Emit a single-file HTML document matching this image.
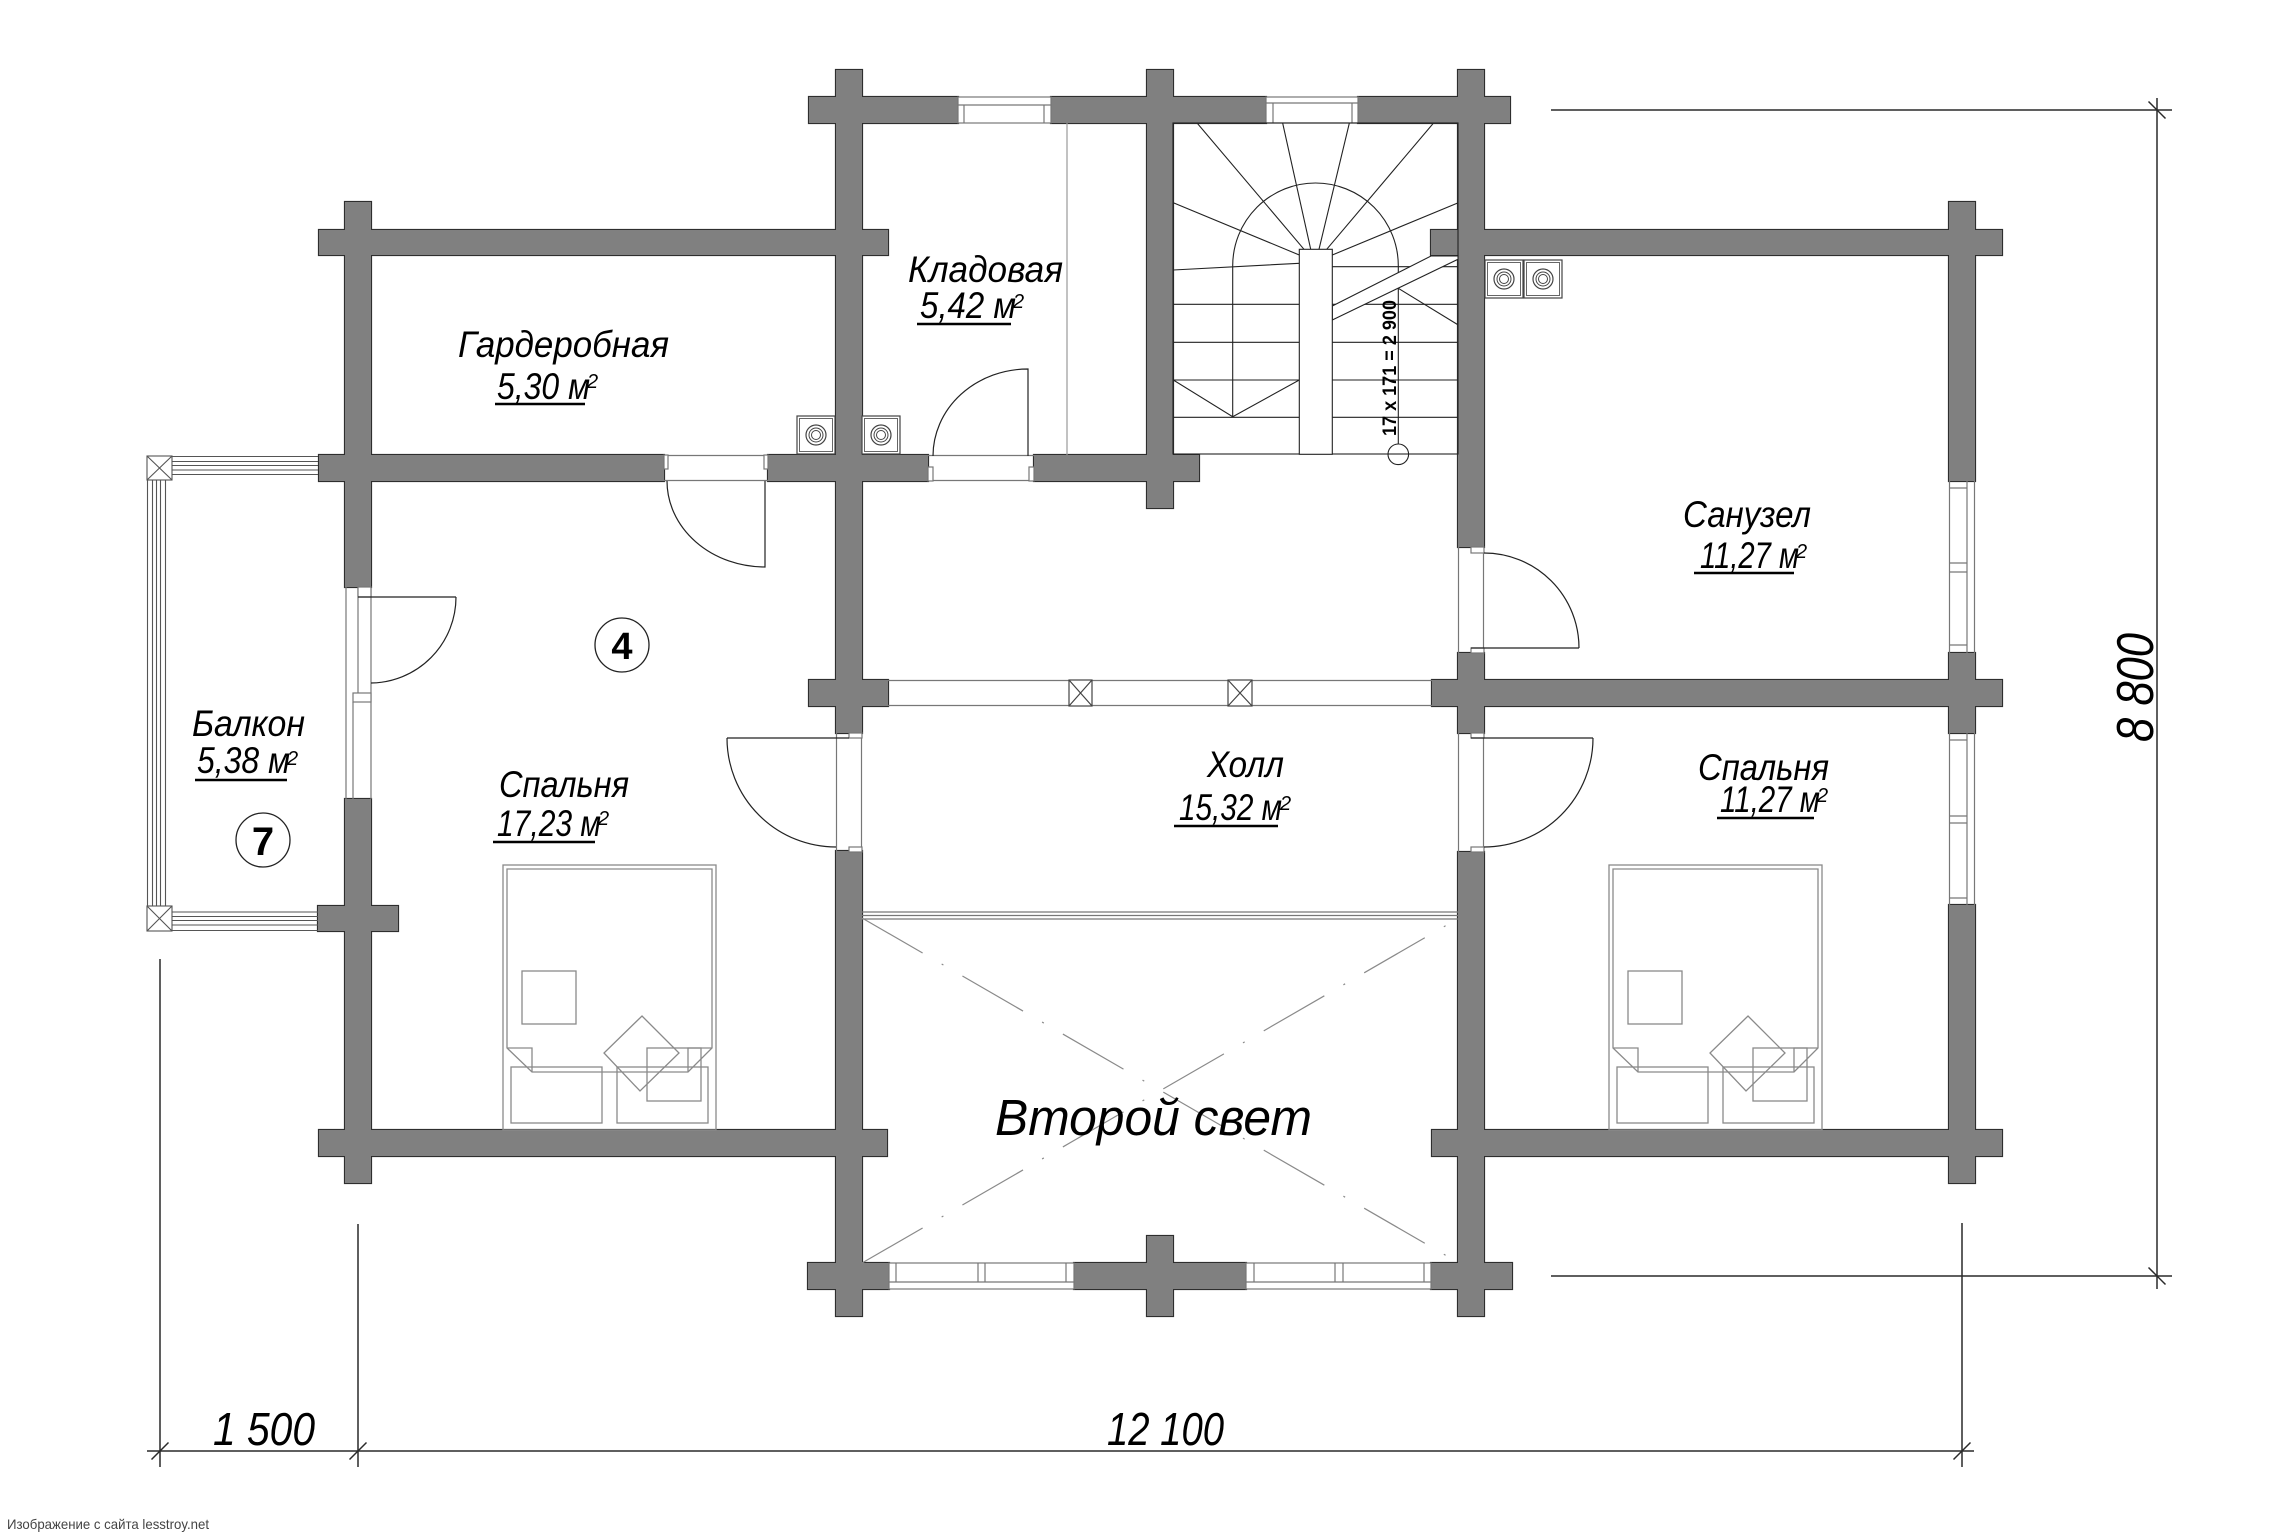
<!DOCTYPE html>
<html><head><meta charset="utf-8">
<style>
html,body{margin:0;padding:0;background:#fff;}
svg{display:block;}
.lbl{font-family:"Liberation Sans","DejaVu Sans",sans-serif;font-style:italic;fill:#000;}
</style></head>
<body>
<svg width="2290" height="1537" viewBox="0 0 2290 1537" xmlns="http://www.w3.org/2000/svg">
<rect width="2290" height="1537" fill="#fff"/>
<defs>
<g id="walls">
<rect x="345" y="202" width="26" height="385"/>
<rect x="345" y="799" width="26" height="384"/>
<rect x="836" y="70" width="26" height="663"/>
<rect x="836" y="851" width="26" height="465"/>
<rect x="1147" y="70" width="26" height="438"/>
<rect x="1147" y="1236" width="26" height="80"/>
<rect x="1458" y="70" width="26" height="477"/>
<rect x="1458" y="653" width="26" height="80"/>
<rect x="1458" y="852" width="26" height="464"/>
<rect x="1949" y="202" width="26" height="279"/>
<rect x="1949" y="653" width="26" height="80"/>
<rect x="1949" y="905" width="26" height="278"/>
<rect x="809" y="97" width="149" height="26"/>
<rect x="1051" y="97" width="215" height="26"/>
<rect x="1358" y="97" width="152" height="26"/>
<rect x="319" y="230" width="569" height="25"/>
<rect x="1431" y="230" width="571" height="25"/>
<rect x="319" y="455" width="345" height="26"/>
<rect x="768" y="455" width="160" height="26"/>
<rect x="1034" y="455" width="165" height="26"/>
<rect x="809" y="680" width="79" height="26"/>
<rect x="1432" y="680" width="570" height="26"/>
<rect x="319" y="1130" width="568" height="26"/>
<rect x="1432" y="1130" width="570" height="26"/>
<rect x="318" y="906" width="80" height="25"/>
<rect x="808" y="1263" width="81" height="26"/>
<rect x="1074" y="1263" width="172" height="26"/>
<rect x="1431" y="1263" width="81" height="26"/>
</g>
<g id="bed" fill="none" stroke="#8a8a8a" stroke-width="1.3">
<rect x="503" y="865" width="213" height="265"/>
<path d="M507,1048 L507,869 L712,869 L712,1048 L688,1072 L532,1072 Z"/>
<path d="M507,1048 L532,1048 L532,1072 M712,1048 L688,1048 L688,1072"/>
<rect x="522" y="971" width="54" height="53"/>
<rect x="511" y="1067" width="91" height="56"/>
<rect x="617" y="1067" width="91" height="56"/>
<path d="M642,1016 L679,1053 L640,1091 L604,1053 Z"/>
<rect x="647" y="1048" width="54" height="53"/>
</g>
<g id="sink">
<rect x="0" y="0" width="38" height="38" fill="#fff" stroke="#444" stroke-width="1.2"/>
<rect x="2.5" y="2.5" width="33" height="33" fill="none" stroke="#666" stroke-width="1"/>
<circle cx="19" cy="19" r="10" fill="none" stroke="#444" stroke-width="1.2"/>
<circle cx="19" cy="19" r="7" fill="none" stroke="#444" stroke-width="1"/>
<circle cx="19" cy="19" r="4.5" fill="none" stroke="#444" stroke-width="1"/>
</g>
</defs>

<use href="#walls" fill="#2e2e2e" stroke="#2e2e2e" stroke-width="2.2"/>
<use href="#walls" fill="#808080" stroke="none"/>

<g fill="none" stroke="#777" stroke-width="1.2">
<rect x="958" y="97" width="93" height="26" fill="#fff"/>
<line x1="958" y1="105" x2="1051" y2="105"/>
<line x1="964" y1="105" x2="964" y2="123"/><line x1="1044" y1="105" x2="1044" y2="123"/>
<rect x="1266" y="97" width="92" height="26" fill="#fff"/>
<line x1="1266" y1="103" x2="1358" y2="103"/>
<line x1="1273" y1="103" x2="1273" y2="123"/><line x1="1352" y1="103" x2="1352" y2="123"/>
<rect x="889" y="1263" width="185" height="26" fill="#fff"/>
<line x1="889" y1="1282" x2="1074" y2="1282"/>
<line x1="896" y1="1263" x2="896" y2="1282"/><line x1="978" y1="1263" x2="978" y2="1282"/>
<line x1="985" y1="1263" x2="985" y2="1282"/><line x1="1066" y1="1263" x2="1066" y2="1282"/>
<rect x="1246" y="1263" width="185" height="26" fill="#fff"/>
<line x1="1246" y1="1282" x2="1431" y2="1282"/>
<line x1="1254" y1="1263" x2="1254" y2="1282"/><line x1="1335" y1="1263" x2="1335" y2="1282"/>
<line x1="1343" y1="1263" x2="1343" y2="1282"/><line x1="1424" y1="1263" x2="1424" y2="1282"/>
<line x1="1949.5" y1="481" x2="1949.5" y2="653"/><line x1="1967" y1="481" x2="1967" y2="653"/><line x1="1974.5" y1="481" x2="1974.5" y2="653"/>
<line x1="1949" y1="488" x2="1967" y2="488"/><line x1="1949" y1="563" x2="1967" y2="563"/>
<line x1="1949" y1="572" x2="1967" y2="572"/><line x1="1949" y1="645" x2="1967" y2="645"/>
<line x1="1949.5" y1="733" x2="1949.5" y2="905"/><line x1="1967" y1="733" x2="1967" y2="905"/><line x1="1974.5" y1="733" x2="1974.5" y2="905"/>
<line x1="1949" y1="740" x2="1967" y2="740"/><line x1="1949" y1="816" x2="1967" y2="816"/>
<line x1="1949" y1="823" x2="1967" y2="823"/><line x1="1949" y1="898" x2="1967" y2="898"/>
<line x1="346" y1="587" x2="346" y2="799"/><line x1="371" y1="587" x2="371" y2="799"/>
<line x1="358" y1="587" x2="358" y2="693"/><line x1="353" y1="702" x2="353" y2="799"/>
<rect x="353" y="693" width="18" height="9" fill="#fff"/>
<rect x="358" y="587" width="13" height="10" fill="#fff"/>
<line x1="664" y1="455.5" x2="768" y2="455.5"/><line x1="664" y1="480.5" x2="768" y2="480.5"/>
<line x1="928" y1="455.5" x2="1034" y2="455.5"/><line x1="928" y1="480.5" x2="1034" y2="480.5"/>
<rect x="928" y="467" width="5" height="14" fill="#fff"/><rect x="1029" y="467" width="5" height="14" fill="#fff"/>
<rect x="664" y="455" width="4" height="14" fill="#fff"/><rect x="764" y="455" width="4" height="14" fill="#fff"/>
<line x1="836.5" y1="733" x2="836.5" y2="851"/><line x1="861.5" y1="733" x2="861.5" y2="851"/>
<line x1="1458.5" y1="547" x2="1458.5" y2="653"/><line x1="1483.5" y1="547" x2="1483.5" y2="653"/>
<line x1="1458.5" y1="733" x2="1458.5" y2="852"/><line x1="1483.5" y1="733" x2="1483.5" y2="852"/>
<rect x="849" y="733" width="13" height="5" fill="#fff"/><rect x="849" y="847" width="13" height="5" fill="#fff"/>
<rect x="1471" y="547" width="13" height="6" fill="#fff"/><rect x="1471" y="648" width="13" height="5" fill="#fff"/>
<rect x="1471" y="733" width="13" height="5" fill="#fff"/><rect x="1471" y="847" width="13" height="5" fill="#fff"/>
<line x1="888" y1="680.5" x2="1432" y2="680.5"/><line x1="888" y1="705.5" x2="1432" y2="705.5"/>
<rect x="1069" y="680" width="23" height="26" fill="#fff" stroke="#444"/>
<path d="M1069,680 L1092,706 M1092,680 L1069,706" stroke="#444"/>
<rect x="1228" y="680" width="24" height="26" fill="#fff" stroke="#444"/>
<path d="M1228,680 L1252,706 M1252,680 L1228,706" stroke="#444"/>
<line x1="862" y1="912" x2="1458" y2="912"/><line x1="862" y1="915.5" x2="1458" y2="915.5"/><line x1="862" y1="919" x2="1458" y2="919"/>
<line x1="1067" y1="123" x2="1067" y2="455" stroke="#999"/>
</g>

<g fill="none" stroke="#555" stroke-width="1.1">
<rect x="147" y="456" width="25" height="24" fill="#fff"/>
<path d="M147,456 L172,480 M172,456 L147,480"/>
<rect x="147" y="906" width="25" height="25" fill="#fff"/>
<path d="M147,906 L172,931 M172,906 L147,931"/>
<line x1="172" y1="456.5" x2="318" y2="456.5"/><line x1="172" y1="461.5" x2="318" y2="461.5"/>
<line x1="172" y1="465.5" x2="318" y2="465.5"/><line x1="172" y1="470" x2="318" y2="470"/>
<line x1="172" y1="474.5" x2="318" y2="474.5"/>
<line x1="172" y1="912" x2="318" y2="912"/><line x1="172" y1="916.5" x2="318" y2="916.5"/>
<line x1="172" y1="920.5" x2="318" y2="920.5"/><line x1="172" y1="925" x2="318" y2="925"/>
<line x1="172" y1="930.5" x2="318" y2="930.5"/>
<line x1="147.5" y1="480" x2="147.5" y2="906"/><line x1="152.5" y1="480" x2="152.5" y2="906"/>
<line x1="156.5" y1="480" x2="156.5" y2="906"/><line x1="160.5" y1="480" x2="160.5" y2="906"/>
<line x1="165.5" y1="480" x2="165.5" y2="906"/>
</g>

<g fill="none" stroke="#222" stroke-width="1.2">
<path d="M667,481 A98,86 0 0 0 765,567 L765,481"/>
<path d="M933,456 A95,87 0 0 1 1028,369 L1028,456"/>
<path d="M727,738 A109,109 0 0 0 836,847"/><line x1="727" y1="738" x2="849" y2="738"/>
<path d="M1593,738 A109,109 0 0 1 1484,847"/><line x1="1471" y1="738" x2="1593" y2="738"/>
<path d="M1579,648 A95,95 0 0 0 1484,553"/><line x1="1471" y1="648" x2="1579" y2="648"/>
<path d="M456,597 A86,86 0 0 1 371,683"/><line x1="358" y1="597" x2="456" y2="597"/>
</g>

<use href="#sink" x="797" y="416"/>
<use href="#sink" x="862" y="416"/>
<use href="#sink" x="1485" y="260"/>
<use href="#sink" x="1524" y="260"/>

<g fill="none" stroke="#222" stroke-width="1.1">
<rect x="1173" y="123" width="285" height="331"/>
<path d="M1304,249.3 L1197.3,123.3 M1310.7,249.3 L1282.7,123.3 M1319,249.3 L1349.3,123.3 M1326.7,249.3 L1433.3,123.3"/>
<path d="M1299.3,255 L1173.3,202.7 M1332.3,255 L1458.3,202.7 M1299.3,263.3 L1173.3,270 M1332.3,266.7 L1458.3,266.7"/>
<path d="M1173,304.3 H1299.3 M1173,342.3 H1299.3 M1173,380 H1299.3 M1173,417.3 H1299.3"/>
<path d="M1332.3,304.3 H1458 M1332.3,342.3 H1458 M1332.3,380 H1458 M1332.3,417.3 H1458"/>
<path d="M1173.3,380 L1232.7,416.7 L1299.3,380"/>
<path d="M1398.3,288.3 L1458.3,325"/>
<path d="M1232.7,416.7 L1232.7,265.8 A82.8,82.8 0 0 1 1398.3,265.8 L1398.3,444"/>
<path d="M1332.3,306 L1431,256 L1458,256 L1458,259.3 L1332.3,320 Z" fill="#fff"/>
<rect x="1299.3" y="249.3" width="33" height="205" fill="#fff"/>
<circle cx="1398.3" cy="454.3" r="10.3"/>
</g>
<text transform="translate(1396,436) rotate(-90)" font-family="Liberation Sans, sans-serif" font-weight="bold" font-size="19" textLength="136" lengthAdjust="spacingAndGlyphs" fill="#000">17 x 171 = 2 900</text>

<g stroke="#8a8a8a" stroke-width="1.2" stroke-dasharray="70 22 2 22">
<line x1="862" y1="918" x2="1459" y2="1263"/>
<line x1="862" y1="1263" x2="1459" y2="918"/>
</g>

<use href="#bed"/>
<use href="#bed" transform="translate(1106,0)"/>

<circle cx="622" cy="645" r="27" fill="#fff" stroke="#222" stroke-width="1.3"/>
<text x="622" y="659" text-anchor="middle" font-family="Liberation Sans, sans-serif" font-weight="bold" font-size="38" fill="#000">4</text>
<circle cx="263" cy="840" r="27" fill="#fff" stroke="#222" stroke-width="1.3"/>
<text x="263" y="855" text-anchor="middle" font-family="Liberation Sans, sans-serif" font-weight="bold" font-size="40" fill="#000">7</text>

<g class="lbl" font-size="37">
<text x="458" y="357" textLength="211" lengthAdjust="spacingAndGlyphs">Гардеробная</text>
<text x="497" y="399" textLength="93" lengthAdjust="spacingAndGlyphs">5,30 м</text>
<text x="908" y="282" textLength="155" lengthAdjust="spacingAndGlyphs">Кладовая</text>
<text x="920" y="318" textLength="96" lengthAdjust="spacingAndGlyphs">5,42 м</text>
<text x="192" y="736" textLength="113" lengthAdjust="spacingAndGlyphs">Балкон</text>
<text x="197" y="773" textLength="93" lengthAdjust="spacingAndGlyphs">5,38 м</text>
<text x="499" y="797" textLength="130" lengthAdjust="spacingAndGlyphs">Спальня</text>
<text x="497" y="836" textLength="104" lengthAdjust="spacingAndGlyphs">17,23 м</text>
<text x="1207" y="777" textLength="77" lengthAdjust="spacingAndGlyphs">Холл</text>
<text x="1179" y="820" textLength="103" lengthAdjust="spacingAndGlyphs">15,32 м</text>
<text x="1683" y="527" textLength="128" lengthAdjust="spacingAndGlyphs">Санузел</text>
<text x="1700" y="568" textLength="99" lengthAdjust="spacingAndGlyphs">11,27 м</text>
<text x="1698" y="780" textLength="131" lengthAdjust="spacingAndGlyphs">Спальня</text>
<text x="1720" y="812" textLength="100" lengthAdjust="spacingAndGlyphs">11,27 м</text>
</g>
<g class="lbl" font-size="20">
<text x="587" y="388">2</text>
<text x="1013" y="308">2</text>
<text x="287" y="765">2</text>
<text x="598" y="825">2</text>
<text x="1280" y="810">2</text>
<text x="1796" y="558">2</text>
<text x="1817" y="802">2</text>
</g>
<g stroke="#000" stroke-width="2.5">
<line x1="495" y1="404" x2="585" y2="404"/>
<line x1="917" y1="324" x2="1011" y2="324"/>
<line x1="195" y1="780" x2="287" y2="780"/>
<line x1="493" y1="842" x2="595" y2="842"/>
<line x1="1174" y1="826" x2="1278" y2="826"/>
<line x1="1694" y1="573" x2="1794" y2="573"/>
<line x1="1717" y1="818" x2="1814" y2="818"/>
</g>
<text class="lbl" x="995" y="1135" font-size="51" textLength="317" lengthAdjust="spacingAndGlyphs">Второй свет</text>

<g stroke="#2a2a2a" stroke-width="1.5" fill="none">
<line x1="2157" y1="98" x2="2157" y2="1289"/>
<line x1="1551" y1="110" x2="2172" y2="110"/>
<line x1="1551" y1="1276" x2="2172" y2="1276"/>
<line x1="2148.5" y1="101.5" x2="2165.5" y2="118.5"/>
<line x1="2148.5" y1="1267.5" x2="2165.5" y2="1284.5"/>
<line x1="147" y1="1451" x2="1974" y2="1451"/>
<line x1="160" y1="959" x2="160" y2="1467"/>
<line x1="358" y1="1224" x2="358" y2="1467"/>
<line x1="1962" y1="1223" x2="1962" y2="1467"/>
<line x1="151.5" y1="1459.5" x2="168.5" y2="1442.5"/>
<line x1="349.5" y1="1459.5" x2="366.5" y2="1442.5"/>
<line x1="1953.5" y1="1459.5" x2="1970.5" y2="1442.5"/>
</g>
<g class="lbl" font-size="46">
<text x="213" y="1445" textLength="102" lengthAdjust="spacingAndGlyphs">1 500</text>
<text x="1107" y="1445" textLength="117" lengthAdjust="spacingAndGlyphs">12 100</text>
<text transform="translate(2153,742) rotate(-90)" font-size="52" textLength="109" lengthAdjust="spacingAndGlyphs">8 800</text>
</g>

<text x="7" y="1529" font-family="Liberation Sans, sans-serif" font-size="14" fill="#444" textLength="202" lengthAdjust="spacingAndGlyphs">Изображение с сайта lesstroy.net</text>
</svg>
</body></html>
